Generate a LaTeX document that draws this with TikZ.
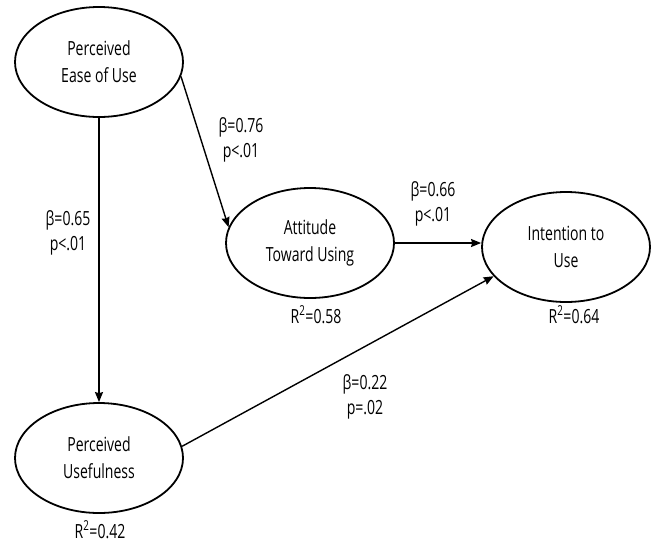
\documentclass[tikz,border=0pt]{standalone}
\usepackage{fontspec}
\setmainfont{Open Sans}[FakeStretch=0.72]
\usetikzlibrary{shapes.geometric,arrows.meta}
\begin{document}
\begin{tikzpicture}[x=1pt,y=-1pt,
  construct/.style={draw,ellipse,line width=1.8pt,minimum width=168pt,
    minimum height=110pt,inner sep=0pt,align=center,
    font=\fontsize{19.5}{27}\selectfont},
  link/.style={line width=1.4pt,-{Stealth[length=10pt,width=8pt,inset=1pt]}},
  % multi-line labels: the base anchor sits on the last line
  coef/.style={align=center,anchor=base,inner sep=0pt,
    font=\fontsize{19.5}{25}\selectfont},
  rsq/.style={anchor=base,inner sep=0pt,font=\fontsize{19.5}{25}\selectfont}
]
\useasboundingbox (0,0) rectangle (658,542);

% latent constructs
\node[construct] (peu) at (99,62)  {Perceived\\Ease of Use};
\node[construct] (atu) at (310,243) {Attitude\\Toward Using};
\node[construct] (itu) at (566,247) {Intention to\\Use};
\node[construct] (pu)  at (99,458) {Perceived\\Usefulness};

% structural paths
\draw[link] (peu.-10) -- (atu.169);
\draw[link] (peu.south) -- (pu.north);
\draw[link] (atu.east) -- (itu.west |- atu.east);
\draw[link] (pu.8) -- (itu.202);

% path coefficients
\node[coef] (c1) at (241,157) {β=0.76\\p<.01};
\node[coef] (c2) at (68,250)  {β=0.65\\p<.01};
\node[coef] (c3) at (433,221) {β=0.66\\p<.01};
\node[coef] (c4) at (365,414) {β=0.22\\p=.02};

% explained variance
\node[rsq] (r1) at (316,323) {R\textsuperscript{2}=0.58};
\node[rsq] (r2) at (574,323) {R\textsuperscript{2}=0.64};
\node[rsq] (r3) at (100,538) {R\textsuperscript{2}=0.42};
\end{tikzpicture}
\end{document}
